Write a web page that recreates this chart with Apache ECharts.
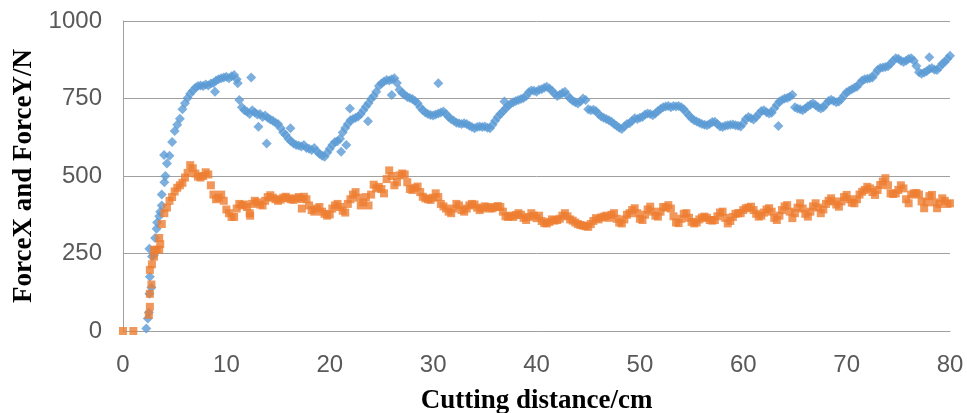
<!DOCTYPE html>
<html>
<head>
<meta charset="utf-8">
<script src="https://cdn.jsdelivr.net/npm/echarts@6/dist/echarts.min.js"></script>
<style>
html,body{margin:0;padding:0;background:#fff;}
#chart{width:967px;height:413px;}
</style>
</head>
<body>
<div id="chart"></div>
<script>
// Cutting distance (cm), sampled every 0.25 cm
const distance = [
0,0.25,0.5,0.75, 1,1.25,1.5,1.75, 2,2.25,2.5,2.75, 3,3.25,3.5,3.75, 4,4.25,4.5,4.75,
5,5.25,5.5,5.75, 6,6.25,6.5,6.75, 7,7.25,7.5,7.75, 8,8.25,8.5,8.75, 9,9.25,9.5,9.75,
10,10.25,10.5,10.75, 11,11.25,11.5,11.75, 12,12.25,12.5,12.75, 13,13.25,13.5,13.75, 14,14.25,14.5,14.75,
15,15.25,15.5,15.75, 16,16.25,16.5,16.75, 17,17.25,17.5,17.75, 18,18.25,18.5,18.75, 19,19.25,19.5,19.75,
20,20.25,20.5,20.75, 21,21.25,21.5,21.75, 22,22.25,22.5,22.75, 23,23.25,23.5,23.75, 24,24.25,24.5,24.75,
25,25.25,25.5,25.75, 26,26.25,26.5,26.75, 27,27.25,27.5,27.75, 28,28.25,28.5,28.75, 29,29.25,29.5,29.75,
30,30.25,30.5,30.75, 31,31.25,31.5,31.75, 32,32.25,32.5,32.75, 33,33.25,33.5,33.75, 34,34.25,34.5,34.75,
35,35.25,35.5,35.75, 36,36.25,36.5,36.75, 37,37.25,37.5,37.75, 38,38.25,38.5,38.75, 39,39.25,39.5,39.75,
40,40.25,40.5,40.75, 41,41.25,41.5,41.75, 42,42.25,42.5,42.75, 43,43.25,43.5,43.75, 44,44.25,44.5,44.75,
45,45.25,45.5,45.75, 46,46.25,46.5,46.75, 47,47.25,47.5,47.75, 48,48.25,48.5,48.75, 49,49.25,49.5,49.75,
50,50.25,50.5,50.75, 51,51.25,51.5,51.75, 52,52.25,52.5,52.75, 53,53.25,53.5,53.75, 54,54.25,54.5,54.75,
55,55.25,55.5,55.75, 56,56.25,56.5,56.75, 57,57.25,57.5,57.75, 58,58.25,58.5,58.75, 59,59.25,59.5,59.75,
60,60.25,60.5,60.75, 61,61.25,61.5,61.75, 62,62.25,62.5,62.75, 63,63.25,63.5,63.75, 64,64.25,64.5,64.75,
65,65.25,65.5,65.75, 66,66.25,66.5,66.75, 67,67.25,67.5,67.75, 68,68.25,68.5,68.75, 69,69.25,69.5,69.75,
70,70.25,70.5,70.75, 71,71.25,71.5,71.75, 72,72.25,72.5,72.75, 73,73.25,73.5,73.75, 74,74.25,74.5,74.75,
75,75.25,75.5,75.75, 76,76.25,76.5,76.75, 77,77.25,77.5,77.75, 78,78.25,78.5,78.75, 79,79.25,79.5,79.75,
80
];

// ForceX (blue), one value per distance
const forceX = [
null,null,null,null, null,null,null,null, null,8,60,140, 245,330,370,405, 480,540,565,610,
645,665,685,715, 735,752,765,775, 785,790,792,790, 795,792,798,800, 808,812,815,818,
820,815,822,826, 812,745,722,712, 707,700,712,705, 698,700,690,695, 688,682,678,672,
668,655,640,632, 620,612,605,600, 598,595,600,590, 588,584,590,580, 572,565,562,575,
588,600,610,612, 620,640,655,668, 680,684,688,692, 700,712,724,735, 748,758,772,790,
798,805,810,808, 812,815,800,778, 768,762,755,752, 748,742,735,722, 712,705,700,697,
695,698,702,705, 708,700,690,683, 678,672,670,668, 670,668,662,658, 654,658,660,658,
660,656,654,665, 678,690,700,708, 718,726,733,738, 742,745,748,752, 758,770,776,775,
772,778,780,785, 788,782,775,765, 758,762,768,772, 760,750,743,738, 734,740,750,745,
715,712,714,710, 700,692,688,684, 680,675,668,662, 656,652,660,668, 670,678,686,684,
688,690,698,702, 700,696,702,710, 716,722,724,726, 722,726,724,726, 722,715,705,695,
686,680,676,672, 668,665,664,668, 674,675,668,660, 658,662,664,665, 666,664,662,660,
670,684,690,686, 682,690,700,710, 712,706,702,704, 718,730,740,745, 750,752,756,762,
722,718,715,712, 718,725,730,735, 728,722,718,722, 732,742,746,742, 738,740,748,760,
770,775,780,785, 788,798,808,812, 814,815,818,830, 842,848,850,852, 854,862,872,880,
878,872,868,872, 878,880,872,855, 835,830,834,838, 845,848,843,842, 852,862,868,878,
888
];

// ForceY (orange), one value per distance
const forceY = [
0,null,null,null, 0,null,null,null, null,null,52,150, 240,262,300,345, 380,398,420,432,
450,462,470,478, 495,510,535,525, 508,498,495,500, 512,505,470,440, 425,430,440,420,
392,380,368,368, 395,410,405,408, 400,380,410,420, 415,408,405,420, 432,438,430,425,
420,424,430,433, 428,425,423,428, 432,426,433,425, 405,390,385,395, 400,385,378,372,
376,395,405,410, 400,388,382,410, 425,440,448,430, 405,415,432,405, 440,472,460,465,
458,444,490,518, 500,470,480,502, 508,505,480,458, 455,462,466,448, 433,428,425,423,
430,444,432,410, 402,395,385,380, 395,410,405,390, 385,395,405,410, 408,398,390,395,
402,400,395,396, 400,403,400,385, 370,368,372,368, 374,380,375,365, 358,368,380,372,
364,372,355,348, 347,352,360,356, 358,362,372,380, 370,360,356,350, 345,342,340,338,
336,345,355,364, 360,366,369,372, 365,375,380,362, 350,347,360,375, 380,390,396,380,
362,358,375,392, 401,385,372,369, 385,400,398,406, 395,370,350,348, 362,378,380,365,
352,347,350,360, 366,369,365,358, 356,358,370,382, 385,365,347,355, 368,378,380,380,
390,396,398,401, 390,378,369,372, 382,392,396,385, 365,358,372,390, 402,406,385,364,
380,398,412,395, 378,369,385,402, 412,398,380,392, 410,420,428,418, 408,401,418,432,
439,425,414,412, 425,440,449,455, 465,460,448,439, 455,471,482,493, 470,444,442,444,
455,470,460,425, 412,440,444,445, 440,418,396,415, 435,439,415,396, 410,428,420,410,
412
];

// Scattered extra readings off the main band: [distance, force]
const forceXExtra = [[2.4,40],[2.55,120],[2.6,175],[2.55,265],[2.8,240],[3.1,300],[3.3,350],[3.6,385],
  [3.75,440],[3.97,568],[4.1,500],[8.9,772],[11.1,799],[12.4,818],[13.1,659],[13.9,605],[16.2,654],
  [21.1,578],[21.6,600],[21.95,718],[23.7,677],[26.0,761],[30.5,799],[36.9,740],[63.4,661],[78.0,883]];
const forceYExtra = [[2.6,78],[2.6,120],[2.6,197],[2.8,215],[3.0,262],[3.5,262],[3.6,280],[12.3,372],[17.3,395]];

const xTicks = {min:0, max:80, interval:10};
const yTicks = {min:0, max:1000, interval:250};

function pairs(vals, extra){
  const out = [];
  vals.forEach((v,i)=>{ if(v!==null) out.push([distance[i], v]); });
  return out.concat(extra);
}

const chart = echarts.init(document.getElementById('chart'), null, {renderer:'canvas'});
chart.setOption({
  animation:false,
  backgroundColor:'#ffffff',
  grid:{left:123, right:17, top:21, bottom:82, containLabel:false, outerBoundsMode:'none'},
  xAxis:{
    type:'value', min:xTicks.min, max:xTicks.max, interval:xTicks.interval,
    name:'Cutting distance/cm', nameLocation:'middle', nameGap:57,
    nameTextStyle:{fontFamily:'Liberation Serif', fontWeight:'bold', fontSize:27, color:'#000'},
    axisLine:{show:true, lineStyle:{color:'#A0A0A0', width:1}},
    axisTick:{show:false},
    splitLine:{show:false},
    axisLabel:{fontFamily:'Liberation Sans', fontSize:24, color:'#595959', margin:22,
      formatter:(v)=>String(v)}
  },
  yAxis:{
    type:'value', min:yTicks.min, max:yTicks.max, interval:yTicks.interval,
    name:'ForceX and ForceY/N', nameLocation:'middle', nameGap:82, nameRotate:90,
    nameTextStyle:{fontFamily:'Liberation Serif', fontWeight:'bold', fontSize:27, color:'#000'},
    axisLine:{show:true, lineStyle:{color:'#A0A0A0', width:1}},
    axisTick:{show:false},
    splitLine:{show:true, lineStyle:{color:'#A0A0A0', width:1}},
    axisLabel:{fontFamily:'Liberation Sans', fontSize:24, color:'#595959', margin:21,
      formatter:(v)=>String(v)}
  },
  series:[
    {name:'ForceX', type:'scatter', symbol:'diamond', symbolSize:10,
     itemStyle:{color:'#5B9BD5'}, data:pairs(forceX, forceXExtra)},
    {name:'ForceY', type:'scatter', symbol:'rect', symbolSize:8,
     itemStyle:{color:'#ED7D31'}, data:pairs(forceY, forceYExtra)}
  ]
});
</script>
</body>
</html>
